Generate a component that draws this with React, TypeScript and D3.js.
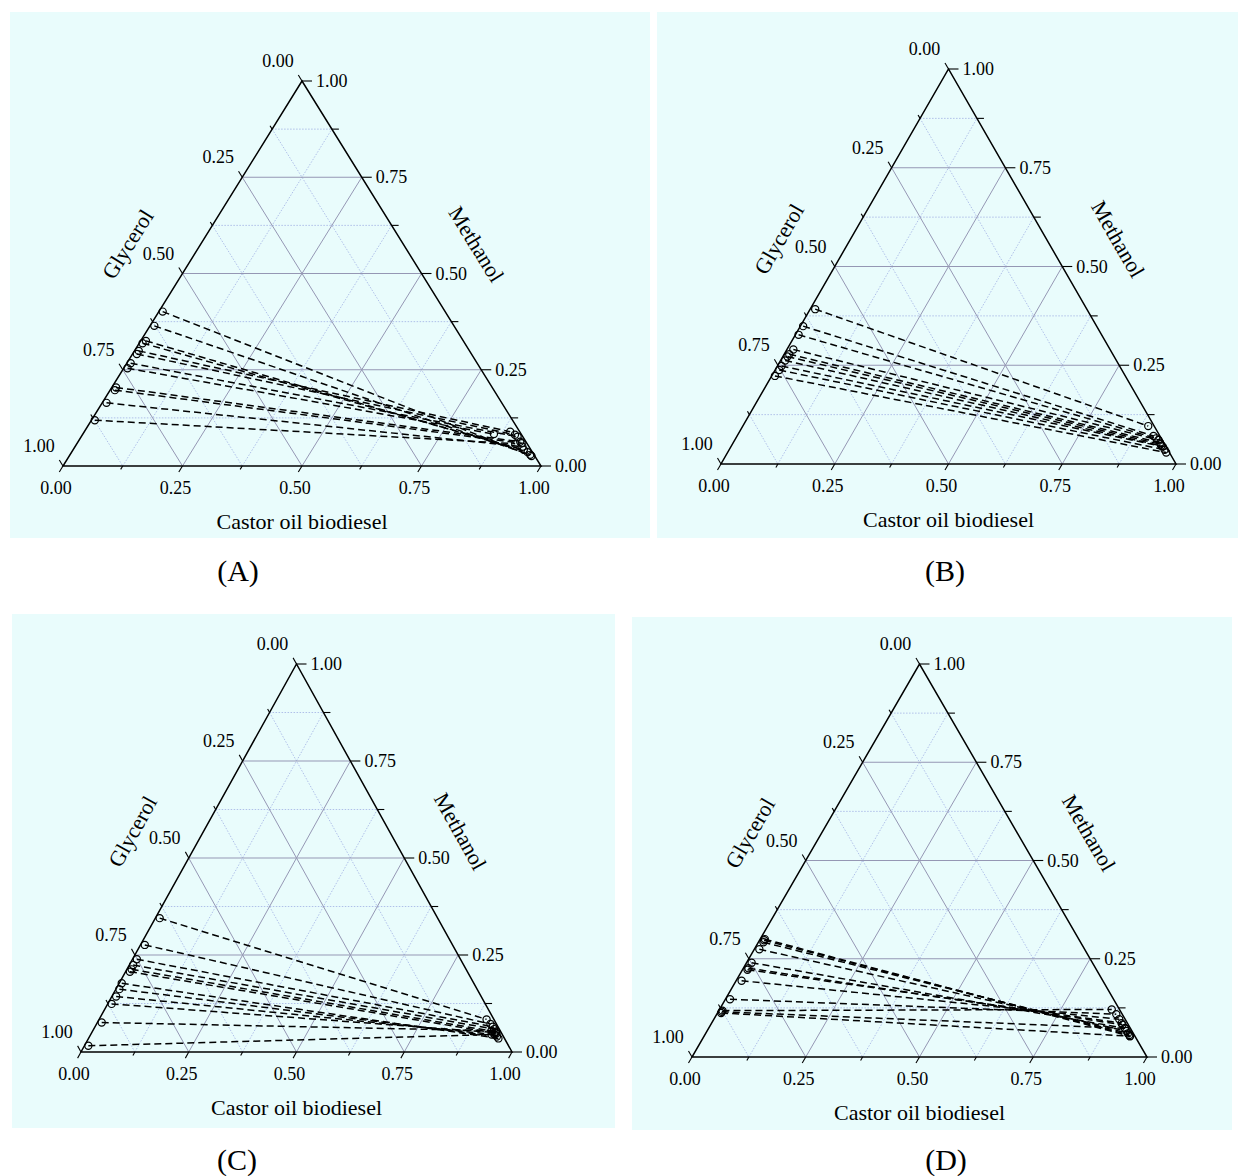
import React from "react";
import * as d3 from "d3";

// tie-line end points as [biodiesel, methanol] mass fractions (glycerol = 1 - both)
const glycerolPhaseA = [
  [0.008, 0.401], [0.009, 0.364], [0.011, 0.325], [0.007, 0.319], [0.009, 0.299], [0.009, 0.291],
  [0.008, 0.267], [0.008, 0.254], [0.009, 0.204], [0.01, 0.197], [0.009, 0.164], [0.007, 0.119],
];
const biodieselPhaseA = [
  [0.967, 0.026], [0.963, 0.029], [0.954, 0.036], [0.943, 0.042], [0.891, 0.089], [0.905, 0.081],
  [0.913, 0.076], [0.86, 0.083], [0.925, 0.063], [0.93, 0.059], [0.936, 0.05], [0.917, 0.058],
];

const glycerolPhaseB = [
  [0.011, 0.392], [0.006, 0.349], [0.007, 0.327], [0.014, 0.29], [0.011, 0.278],
  [0.01, 0.272], [0.01, 0.262], [0.009, 0.248], [0.009, 0.238], [0.007, 0.223],
];
const biodieselPhaseB = [
  [0.891, 0.096], [0.915, 0.071], [0.924, 0.065], [0.931, 0.061], [0.938, 0.054],
  [0.941, 0.05], [0.945, 0.046], [0.949, 0.044], [0.957, 0.036], [0.964, 0.029],
];

const glycerolPhaseC = [
  [0.01, 0.345], [0.01, 0.276], [0.01, 0.239], [0.009, 0.224], [0.011, 0.213], [0.01, 0.207],
  [0.006, 0.177], [0.008, 0.162], [0.01, 0.143], [0.009, 0.124], [0.01, 0.076], [0.009, 0.016],
];
const biodieselPhaseC = [
  [0.899, 0.084], [0.914, 0.072], [0.923, 0.065], [0.929, 0.059], [0.937, 0.052], [0.94, 0.048],
  [0.951, 0.035], [0.945, 0.04], [0.937, 0.045], [0.935, 0.05], [0.925, 0.055], [0.93, 0.045],
];

const glycerolPhaseD = [
  [0.01, 0.3], [0.01, 0.297], [0.011, 0.292], [0.011, 0.274], [0.011, 0.24], [0.011, 0.226],
  [0.011, 0.222], [0.012, 0.194], [0.01, 0.147], [0.008, 0.118], [0.008, 0.115], [0.008, 0.112],
];
const biodieselPhaseD = [
  [0.936, 0.053], [0.933, 0.056], [0.928, 0.06], [0.922, 0.066], [0.915, 0.073], [0.905, 0.082],
  [0.901, 0.086], [0.891, 0.096], [0.878, 0.109], [0.862, 0.121], [0.915, 0.073], [0.936, 0.053],
];

const majorTicks = [0, 0.25, 0.5, 0.75, 1];
const minorTicks = [0.125, 0.375, 0.625, 0.875];
const tickLabels = ["0.00", "0.25", "0.50", "0.75", "1.00"];

const panels = [
  { name: "(A)", gly: glycerolPhaseA, bio: biodieselPhaseA, bg: [10, 12, 640, 526], left: 63, right: 541, base: 466, top: 81, tag: [238, 571] },
  { name: "(B)", gly: glycerolPhaseB, bio: biodieselPhaseB, bg: [657, 12, 581, 526], left: 721, right: 1176, base: 464, top: 69, tag: [945, 571] },
  { name: "(C)", gly: glycerolPhaseC, bio: biodieselPhaseC, bg: [12, 614, 603, 514], left: 81, right: 512, base: 1052, top: 664, tag: [237, 1160] },
  { name: "(D)", gly: glycerolPhaseD, bio: biodieselPhaseD, bg: [632, 617, 600, 513], left: 692, right: 1147, base: 1057, top: 664, tag: [946, 1160] },
];

const font = "'Liberation Serif', 'Times New Roman', serif";

function Ternary({ p }) {
  const x = d3.scaleLinear().domain([0, 1]).range([p.left, p.right]);
  const y = d3.scaleLinear().domain([0, 1]).range([p.base, p.top]);
  const pt = (b, m) => [x(b + m / 2), y(m)];
  const L = pt(0, 0), R = pt(1, 0), T = pt(0, 1);

  const unit = (a, b) => {
    const dx = a[0] - b[0], dy = a[1] - b[1];
    const n = Math.hypot(dx, dy);
    return [dx / n, dy / n];
  };
  const dBottom = unit(L, T);
  const dLeft = unit(T, R);

  const gridLines = (v) => [
    [pt(0, v), pt(1 - v, v)],
    [pt(v, 0), pt(v, 1 - v)],
    [pt(0, 1 - v), pt(1 - v, 0)],
  ];

  const ticks = [];
  const addTicks = (vals, len) => {
    vals.forEach((v) => {
      const a = pt(v, 0);
      ticks.push([a, [a[0] + dBottom[0] * len, a[1] + dBottom[1] * len]]);
      const r = pt(1 - v, v);
      ticks.push([r, [r[0] + len + 3, r[1]]]);
      const l = pt(0, 1 - v);
      ticks.push([l, [l[0] + dLeft[0] * len, l[1] + dLeft[1] * len]]);
    });
  };
  addTicks(majorTicks, 7);
  addTicks(minorTicks, 4);

  const angle = (Math.atan2(L[1] - T[1], T[0] - L[0]) * 180) / Math.PI;
  const edge = unit(T, L);
  const nrm = [edge[1], -edge[0]];
  const midL = [(L[0] + T[0]) / 2, (L[1] + T[1]) / 2];
  const midR = [(R[0] + T[0]) / 2, (R[1] + T[1]) / 2];
  const off = 62;
  const glyPos = [midL[0] + nrm[0] * off - edge[0] * 4, midL[1] + nrm[1] * off - edge[1] * 4];
  const metPos = [midR[0] - nrm[0] * off + edge[0] * 4, midR[1] + nrm[1] * off - edge[1] * 4];

  return (
    <g>
      <rect x={p.bg[0]} y={p.bg[1]} width={p.bg[2]} height={p.bg[3]} fill="#e9fcfc" />
      {minorTicks.flatMap(gridLines).map((s, i) => (
        <line key={"mi" + i} x1={s[0][0]} y1={s[0][1]} x2={s[1][0]} y2={s[1][1]}
          stroke="#a9b9e6" strokeWidth={0.9} strokeDasharray="1.5,1.5" />
      ))}
      {[0.25, 0.5, 0.75].flatMap(gridLines).map((s, i) => (
        <line key={"ma" + i} x1={s[0][0]} y1={s[0][1]} x2={s[1][0]} y2={s[1][1]}
          stroke="#9597b4" strokeWidth={1} />
      ))}
      {p.gly.map((g, i) => {
        const a = pt(g[0], g[1]);
        const b = pt(p.bio[i][0], p.bio[i][1]);
        return (
          <line key={"t" + i} x1={a[0]} y1={a[1]} x2={b[0]} y2={b[1]}
            stroke="#000" strokeWidth={1.5} strokeDasharray="7,4" />
        );
      })}
      {p.gly.concat(p.bio).map((g, i) => {
        const a = pt(g[0], g[1]);
        return <circle key={"c" + i} cx={a[0]} cy={a[1]} r={3.6} fill="none" stroke="#000" strokeWidth={1.2} />;
      })}
      <path d={d3.line()([L, R, T, L]) + "Z"} fill="none" stroke="#000" strokeWidth={1.5} strokeLinejoin="miter" />
      {ticks.map((s, i) => (
        <line key={"k" + i} x1={s[0][0]} y1={s[0][1]} x2={s[1][0]} y2={s[1][1]} stroke="#000" strokeWidth={1.1} />
      ))}
      <g fontFamily={font} fontSize={18} fill="#000">
        {majorTicks.map((v, i) => {
          const a = pt(v, 0);
          return <text key={"bl" + i} x={a[0] - 7} y={a[1] + 28} textAnchor="middle">{tickLabels[i]}</text>;
        })}
        {majorTicks.map((v, i) => {
          const a = pt(1 - v, v);
          return <text key={"rl" + i} x={a[0] + 14} y={a[1] + 6} textAnchor="start">{tickLabels[i]}</text>;
        })}
        {majorTicks.map((v, i) => {
          const a = pt(0, 1 - v);
          return <text key={"ll" + i} x={a[0] - 24} y={a[1] - 14} textAnchor="middle">{tickLabels[i]}</text>;
        })}
      </g>
      <g fontFamily={font} fontSize={22} fill="#000">
        <text x={(L[0] + R[0]) / 2} y={p.base + 63} textAnchor="middle">Castor oil biodiesel</text>
        <text x={glyPos[0]} y={glyPos[1]} textAnchor="middle" dominantBaseline="central"
          transform={`rotate(${-angle} ${glyPos[0]} ${glyPos[1]})`}>Glycerol</text>
        <text x={metPos[0]} y={metPos[1]} textAnchor="middle" dominantBaseline="central"
          transform={`rotate(${angle} ${metPos[0]} ${metPos[1]})`}>Methanol</text>
      </g>
      <text x={p.tag[0]} y={p.tag[1] + 10} textAnchor="middle" fontFamily={font} fontSize={30}>{p.name}</text>
    </g>
  );
}

export default function App() {
  return (
    <svg width={1240} height={1176} style={{ position: "absolute", left: 0, top: 0, background: "#fff" }}>
      {panels.map((p) => (
        <Ternary key={p.name} p={p} />
      ))}
    </svg>
  );
}
